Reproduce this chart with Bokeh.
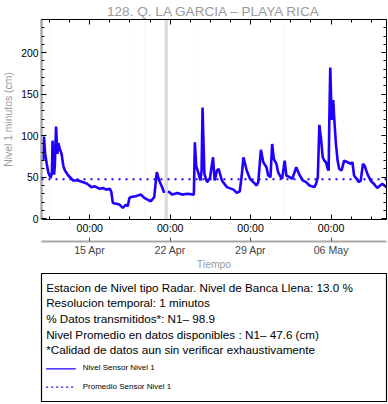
import numpy as np
import pandas as pd
from bokeh.plotting import figure
from bokeh.models import (Range1d, FixedTicker, DatetimeTickFormatter, DatetimeAxis,
                          LinearAxis, BoxAnnotation, Label, Span, ColumnDataSource,
                          CustomJSTickFormatter)
from bokeh.layouts import column
from bokeh.embed import file_html
from bokeh.resources import INLINE

# ---------------- data ----------------
TITLE = "128. Q. LA GARCIA \u2013 PLAYA RICA"
Y_LABEL = "Nivel 1 minutos (cm)"
X_LABEL = "Tiempo"

times = [
    "2025-04-10 22:20", "2025-04-11 00:20", "2025-04-11 02:50", "2025-04-11 06:10",
    "2025-04-11 09:40", "2025-04-11 14:25", "2025-04-11 16:55", "2025-04-11 18:20",
    "2025-04-11 21:30", "2025-04-11 23:05", "2025-04-12 01:35", "2025-04-12 04:20",
    "2025-04-12 06:25", "2025-04-12 09:30", "2025-04-12 13:10", "2025-04-12 16:40",
    "2025-04-12 20:10", "2025-04-13 03:05", "2025-04-13 13:25", "2025-04-13 23:50",
    "2025-04-14 10:05", "2025-04-14 18:25", "2025-04-15 03:20", "2025-04-15 11:00",
    "2025-04-15 20:40", "2025-04-16 03:30", "2025-04-16 10:25", "2025-04-16 18:00",
    "2025-04-16 21:05", "2025-04-17 00:10", "2025-04-17 14:05", "2025-04-17 21:00",
    "2025-04-18 03:50", "2025-04-18 07:20", "2025-04-18 10:50", "2025-04-18 14:05",
    "2025-04-18 23:55", "2025-04-19 10:50", "2025-04-19 17:55", "2025-04-20 00:40",
    "2025-04-20 07:35", "2025-04-20 14:35", "2025-04-20 20:00", "2025-04-21 01:00",
    "2025-04-21 07:50", "2025-04-21 11:20", "2025-04-21 15:00", "2025-04-21 19:35",
    "2025-04-22 04:30", "2025-04-22 14:50", "2025-04-23 01:10", "2025-04-23 11:30",
    "2025-04-24 01:25", "2025-04-24 03:30", "2025-04-24 06:10", "2025-04-24 10:20",
    "2025-04-24 15:05", "2025-04-24 17:35", "2025-04-24 19:35", "2025-04-24 23:25",
    "2025-04-25 05:00", "2025-04-25 11:10", "2025-04-25 17:25", "2025-04-25 20:55",
    "2025-04-26 01:40", "2025-04-26 05:10", "2025-04-26 12:00", "2025-04-26 22:25",
    "2025-04-27 12:20", "2025-04-27 19:05", "2025-04-28 01:20", "2025-04-28 05:25",
    "2025-04-28 09:00", "2025-04-28 15:50", "2025-04-28 22:35", "2025-04-29 05:40",
    "2025-04-29 12:30", "2025-04-29 16:00", "2025-04-29 21:25", "2025-04-30 02:25",
    "2025-04-30 09:10", "2025-04-30 12:40", "2025-04-30 17:30", "2025-04-30 21:00",
    "2025-05-01 00:20", "2025-05-01 05:55", "2025-05-01 09:25", "2025-05-01 12:50",
    "2025-05-01 17:40", "2025-05-01 23:05", "2025-05-02 02:35", "2025-05-02 09:30",
    "2025-05-02 15:00", "2025-05-02 23:20", "2025-05-03 04:55", "2025-05-03 13:10",
    "2025-05-03 20:00", "2025-05-04 02:55", "2025-05-04 13:10", "2025-05-04 16:40",
    "2025-05-04 20:20", "2025-05-04 23:35", "2025-05-05 03:05", "2025-05-05 06:35",
    "2025-05-05 09:55", "2025-05-05 13:25", "2025-05-05 17:00", "2025-05-05 19:00",
    "2025-05-05 20:20", "2025-05-05 22:20", "2025-05-06 01:20", "2025-05-06 04:35",
    "2025-05-06 06:35", "2025-05-06 10:10", "2025-05-06 13:40", "2025-05-06 17:00",
    "2025-05-06 22:00", "2025-05-07 03:20", "2025-05-07 10:25", "2025-05-07 17:10",
    "2025-05-07 20:40", "2025-05-08 00:05", "2025-05-08 10:25", "2025-05-08 13:55",
    "2025-05-08 18:40", "2025-05-08 22:10", "2025-05-09 03:50", "2025-05-09 10:35",
    "2025-05-09 17:30", "2025-05-10 00:30", "2025-05-10 10:55", "2025-05-10 19:30",
]
level = [
    70, 99, 78, 66,
    55, 49, 56, 94,
    53, 64, 111, 78,
    91, 84, 78, 64,
    58, 52, 46, 46,
    44, 42, 38, 39,
    36, 37, 35, 36,
    32, 19, 17, 13,
    17, 15, 25, 26,
    27, 29, 25, 23,
    21, 26, 56, 46,
    37, 31, np.nan, 33,
    29, 31, 29, 30,
    29, 92, 64, 56,
    46, 58, 134, 54,
    44, 49, 74, 46,
    58, 60, 46, 38,
    35, 31, 33, 52,
    74, 58, 48, 44,
    40, 44, 83, 68,
    62, 52, 50, 90,
    72, 66, 56, 52,
    48, 70, 52, 50,
    48, 62, 54, 46,
    44, 40, 38, 42,
    50, 113, 96, 74,
    70, 68, 60, 58,
    117, 182, 119, 143,
    121, 90, 70, 60,
    58, 70, 68, 66,
    68, 52, 44, 46,
    66, 64, 54, 46,
    42, 37, 42, 38,
]
mean_level = 47.6

gap_start = ["2025-04-11 11:15", "2025-04-18 12:30", "2025-04-19 17:30",
             "2025-04-21 12:00", "2025-04-24 08:00", "2025-05-01 19:30"]
gap_end = ["2025-04-11 12:00", "2025-04-18 13:15", "2025-04-19 18:15",
           "2025-04-21 19:30", "2025-04-24 08:45", "2025-05-01 20:15"]
gap_color = ["#efefef", "#efefef", "#efefef", "#dedede", "#efefef", "#efefef"]

week_ticks = ["2025-04-15", "2025-04-22", "2025-04-29", "2025-05-06"]
minor_start, minor_end, minor_step = "2025-04-11 12:00", "2025-05-10 18:00", "42h"
y_major = [0, 50, 100, 150, 200]
y_minor = list(range(0, 241, 10))

info_lines = [
    "Estacion de Nivel tipo Radar. Nivel de Banca Llena: 13.0 %",
    "Resolucion temporal: 1 minutos",
    "% Datos transmitidos*: N1\u2013 98.9",
    "Nivel Promedio en datos disponibles : N1\u2013 47.6 (cm)",
    "*Calidad de datos aun sin verificar exhaustivamente",
]
legend_labels = ["Nivel Sensor Nivel 1", "Promedio Sensor Nivel 1"]

# ---------------- styling ----------------
FONT = "Liberation Sans"
BLUE = "#1e00ff"
GRAY_TXT = "#9a9a9a"

def ms(t):
    return pd.Timestamp(t).value / 1e6

x_start = pd.Timestamp("2025-04-10 19:12")
x_end = pd.Timestamp("2025-05-10 19:48")

major_ms = [ms(t) for t in week_ticks]
minor_ms = [ms(t) for t in pd.date_range(minor_start, minor_end, freq=minor_step)]

src = ColumnDataSource(dict(t=pd.to_datetime(times), v=level))

p = figure(width=388, height=272, x_axis_type="datetime",
           x_range=Range1d(x_start, x_end), y_range=Range1d(-1, 240),
           output_backend="svg", toolbar_location=None, title=TITLE,
           min_border_left=38, min_border_right=2, min_border_top=0, min_border_bottom=0)
p.outline_line_color = None
p.grid.visible = False
p.background_fill_color = "white"

p.title.align = "center"
p.title.text_color = GRAY_TXT
p.title.text_font = FONT
p.title.text_font_style = "normal"
p.title.text_font_size = "13.6px"
p.title.standoff = 2

for s, e, c in zip(gap_start, gap_end, gap_color):
    p.add_layout(BoxAnnotation(left=pd.Timestamp(s), right=pd.Timestamp(e),
                               fill_color=c, fill_alpha=1, line_color=None, level="underlay"))

p.line("t", "v", source=src, line_color=BLUE, line_width=2.6)
p.add_layout(Span(location=mean_level, dimension="width", line_color=BLUE,
                  line_width=2, line_dash="2 5"))

xtick = FixedTicker(ticks=major_ms, minor_ticks=minor_ms)
ytick = FixedTicker(ticks=y_major, minor_ticks=y_minor)

def style_ticks(ax):
    ax.major_tick_in = 5
    ax.major_tick_out = 0
    ax.minor_tick_in = 3
    ax.minor_tick_out = 0
    ax.major_tick_line_color = "black"
    ax.minor_tick_line_color = "black"

def hide_labels(ax):
    ax.formatter = CustomJSTickFormatter(code="return ''")
    ax.major_label_standoff = 0

# bottom axis (time of day)
xa = p.xaxis[0]
xa.ticker = xtick
fmt_hm = "%H:%M"
xa.formatter = DatetimeTickFormatter(microseconds=fmt_hm, milliseconds=fmt_hm, seconds=fmt_hm,
                                     minsec=fmt_hm, minutes=fmt_hm, hourmin=fmt_hm, hours=fmt_hm,
                                     days=fmt_hm, months=fmt_hm, years=fmt_hm)
style_ticks(xa)
xa.axis_line_color = "black"
xa.major_label_text_font = FONT
xa.major_label_text_font_size = "10.6px"
xa.major_label_text_color = "black"
xa.major_label_standoff = 2
xa.axis_label = " "
xa.axis_label_text_font_size = "1px"
xa.axis_label_standoff = 1

# second bottom axis (dates)
fmt_d = "%d %b"
xa2 = DatetimeAxis(ticker=FixedTicker(ticks=major_ms, minor_ticks=[]),
                   formatter=DatetimeTickFormatter(microseconds=fmt_d, milliseconds=fmt_d,
                                                   seconds=fmt_d, minsec=fmt_d, minutes=fmt_d,
                                                   hourmin=fmt_d, hours=fmt_d, days=fmt_d,
                                                   months=fmt_d, years=fmt_d))
xa2.axis_line_color = "#a8a8a8"
xa2.axis_line_width = 2
xa2.major_tick_in = 4
xa2.major_tick_out = 0
xa2.major_tick_line_color = "#555555"
xa2.minor_tick_line_color = None
xa2.major_label_text_font = FONT
xa2.major_label_text_font_size = "10.6px"
xa2.major_label_standoff = 2
xa2.axis_label = X_LABEL
xa2.axis_label_text_font = FONT
xa2.axis_label_text_font_size = "10.4px"
xa2.axis_label_text_font_style = "normal"
xa2.axis_label_text_color = GRAY_TXT
xa2.axis_label_standoff = 0
p.add_layout(xa2, "below")

# left axis
ya = p.yaxis[0]
ya.ticker = ytick
style_ticks(ya)
ya.axis_line_color = "#a8a8a8"
ya.axis_line_width = 2.5
ya.major_label_text_font = FONT
ya.major_label_text_font_size = "10.4px"
ya.major_label_text_color = "black"
ya.major_label_standoff = 3
ya.axis_label = Y_LABEL
ya.axis_label_text_font = FONT
ya.axis_label_text_font_size = "10.4px"
ya.axis_label_text_font_style = "normal"
ya.axis_label_text_color = GRAY_TXT
ya.axis_label_standoff = 4

# top and right mirror axes
xt = DatetimeAxis(ticker=xtick)
style_ticks(xt)
hide_labels(xt)
xt.axis_line_color = "black"
p.add_layout(xt, "above")

yr = LinearAxis(ticker=ytick)
style_ticks(yr)
hide_labels(yr)
yr.axis_line_color = "black"
p.add_layout(yr, "right")

# ---------------- info box ----------------
BOX_W, BOX_H = 349, 128
p2 = figure(width=388, height=132, x_range=Range1d(0, BOX_W), y_range=Range1d(BOX_H, 0),
            output_backend="svg", toolbar_location=None,
            x_axis_location=None, y_axis_location=None,
            min_border_left=37, min_border_right=2, min_border_top=1, min_border_bottom=3)
p2.grid.visible = False
p2.outline_line_color = "black"
p2.outline_line_width = 1.2

TXT_X, TXT_Y0, TXT_DY = 4.7, 13.7, 15.65
for i, line in enumerate(info_lines):
    p2.add_layout(Label(x=TXT_X, y=TXT_Y0 + i * TXT_DY, text=line, text_font=FONT,
                        text_font_size="11.7px", text_baseline="middle", text_color="black"))

LEG_Y0, LEG_DY, LEG_LEN = 94.3, 18.4, 30
leg_dash = ["solid", "2 3"]
for i, (lab, dash) in enumerate(zip(legend_labels, leg_dash)):
    yy = LEG_Y0 + i * LEG_DY
    p2.segment(x0=[TXT_X], y0=[yy + 1], x1=[TXT_X + LEG_LEN], y1=[yy + 1],
               line_color=BLUE, line_width=1.2, line_dash=dash)
    p2.add_layout(Label(x=TXT_X + LEG_LEN + 7, y=yy, text=lab, text_font=FONT,
                        text_font_size="8px", text_baseline="middle", text_color="black"))

layout = column(p, p2, spacing=0)
open("out.html", "w").write(file_html(layout, INLINE))
